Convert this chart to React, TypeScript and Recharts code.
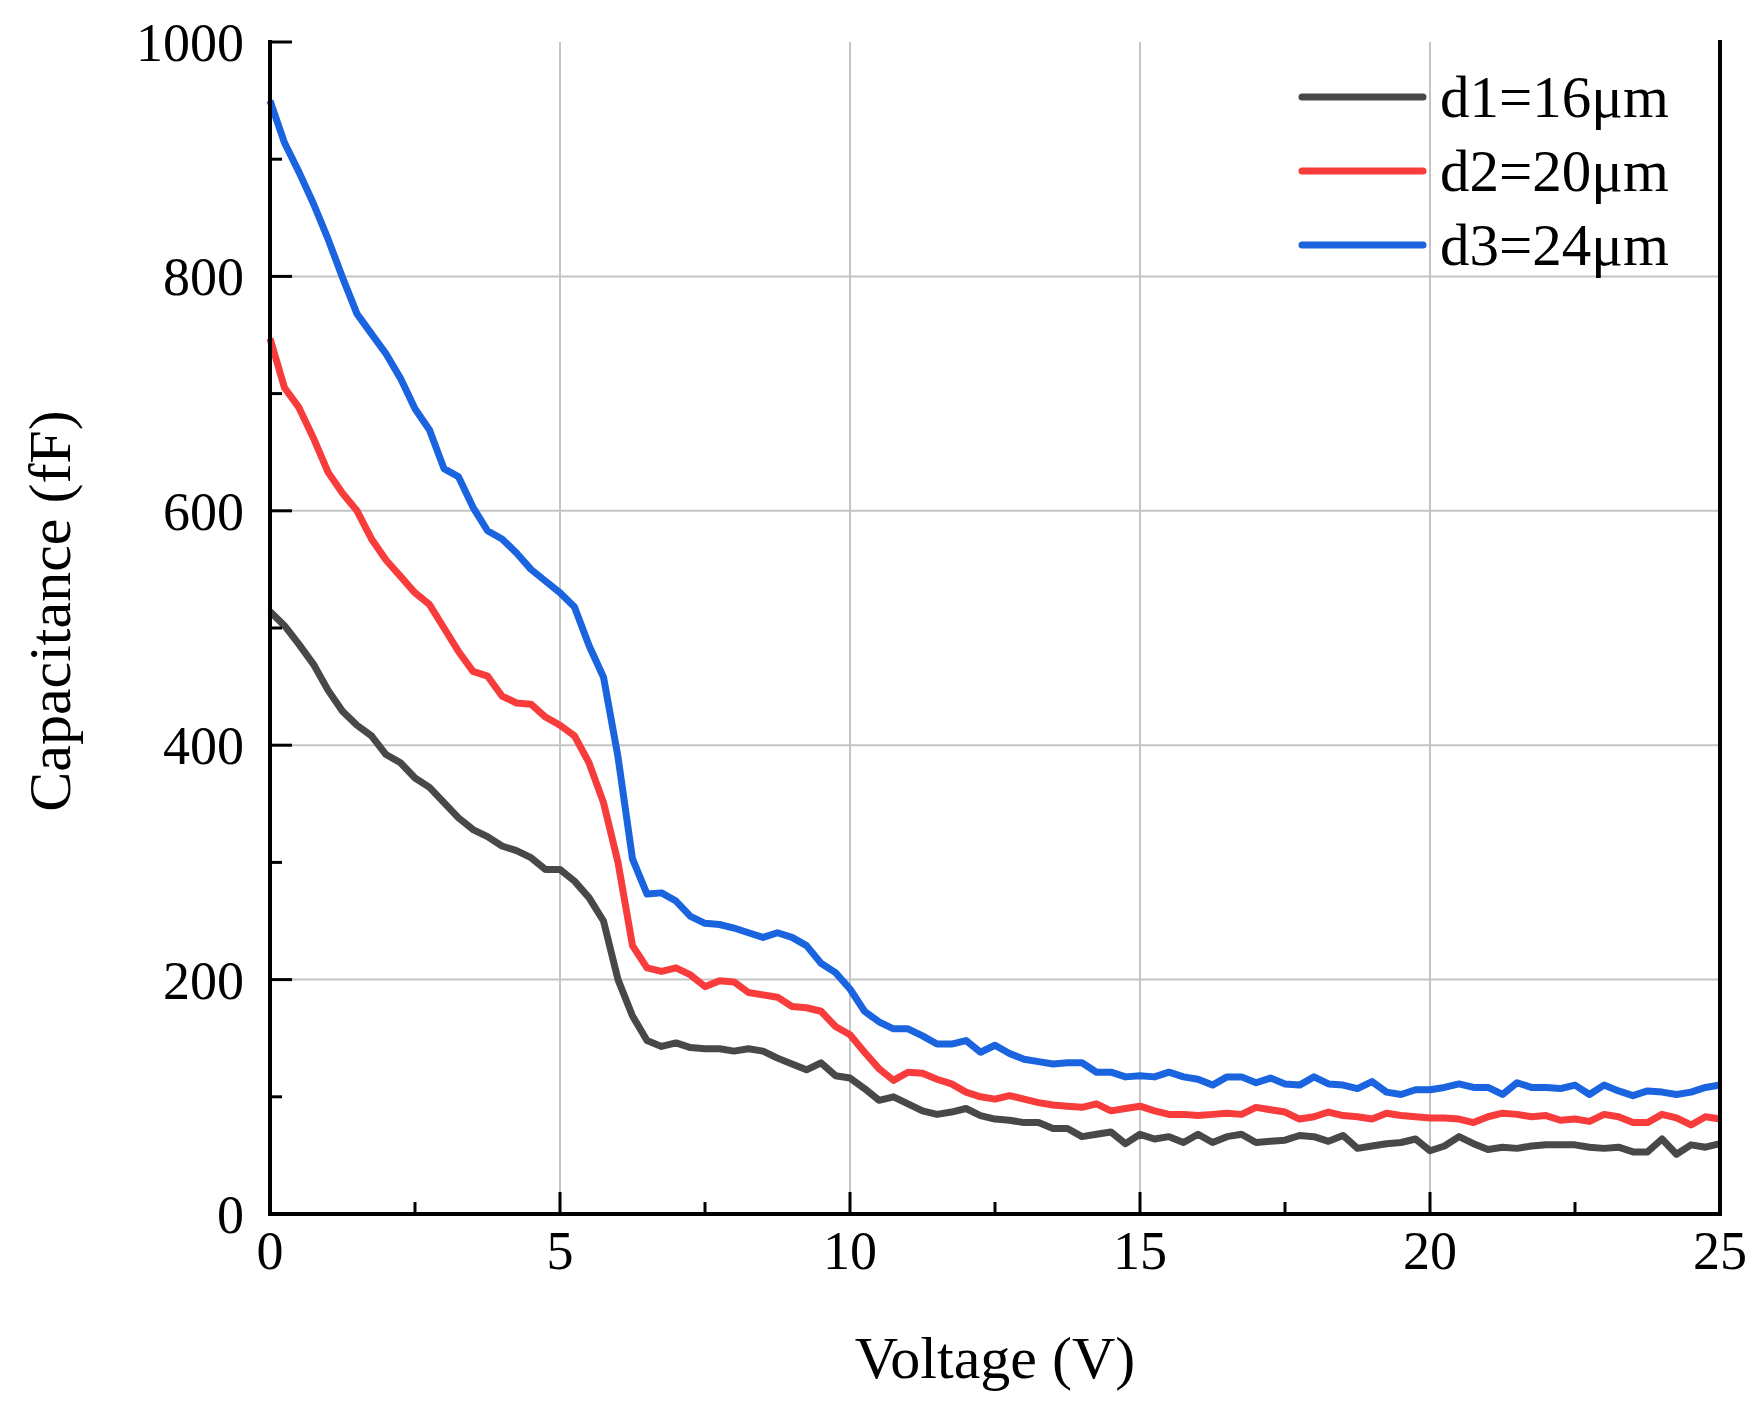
import React from 'react';
import { LineChart, Line, XAxis, YAxis, CartesianGrid, Legend } from 'recharts';

// Voltage sweep (V), 0.25 V steps
const voltage = [
  0, 0.25, 0.5, 0.75, 1, 1.25, 1.5, 1.75, 2, 2.25, 2.5, 2.75, 3, 3.25, 3.5, 3.75, 4, 4.25, 4.5, 4.75,
  5, 5.25, 5.5, 5.75, 6, 6.25, 6.5, 6.75, 7, 7.25, 7.5, 7.75, 8, 8.25, 8.5, 8.75, 9, 9.25, 9.5, 9.75,
  10, 10.25, 10.5, 10.75, 11, 11.25, 11.5, 11.75, 12, 12.25, 12.5, 12.75, 13, 13.25, 13.5, 13.75, 14, 14.25, 14.5, 14.75,
  15, 15.25, 15.5, 15.75, 16, 16.25, 16.5, 16.75, 17, 17.25, 17.5, 17.75, 18, 18.25, 18.5, 18.75, 19, 19.25, 19.5, 19.75,
  20, 20.25, 20.5, 20.75, 21, 21.25, 21.5, 21.75, 22, 22.25, 22.5, 22.75, 23, 23.25, 23.5, 23.75, 24, 24.25, 24.5, 24.75,
  25,
];

// Capacitance (fF) for each electrode spacing
const capD1 = [
  514, 502, 486, 469, 447, 429, 417, 408, 392, 385, 372, 364, 351, 338, 328, 322, 314, 310, 304, 294,
  294, 284, 270, 250, 200, 169, 148, 143, 146, 142, 141, 141, 139, 141, 139, 133, 128, 123, 129, 118,
  116, 107, 97, 100, 94, 88, 85, 87, 90, 84, 81, 80, 78, 78, 73, 73, 66, 68, 70, 60,
  68, 64, 66, 61, 68, 61, 66, 68, 61, 62, 63, 67, 66, 62, 67, 56, 58, 60, 61, 64,
  54, 58, 66, 60, 55, 57, 56, 58, 59, 59, 59, 57, 56, 57, 53, 53, 64, 51, 59, 57,
  60,
];

const capD2 = [
  747, 705, 688, 662, 633, 615, 600, 576, 558, 544, 530, 520, 500, 480, 463, 459, 442, 436, 435, 424,
  417, 408, 385, 351, 300, 229, 210, 207, 210, 204, 194, 199, 198, 189, 187, 185, 177, 176, 173, 160,
  153, 138, 124, 114, 121, 120, 115, 111, 104, 100, 98, 101, 98, 95, 93, 92, 91, 94, 88, 90,
  92, 88, 85, 85, 84, 85, 86, 85, 91, 89, 87, 81, 83, 87, 84, 83, 81, 86, 84, 83,
  82, 82, 81, 78, 83, 86, 85, 83, 84, 80, 81, 79, 85, 83, 78, 78, 85, 82, 76, 83,
  81,
];

const capD3 = [
  950, 914, 889, 862, 832, 799, 768, 751, 734, 713, 687, 669, 636, 629, 603, 583, 576, 564, 550, 540,
  530, 518, 485, 458, 390, 303, 273, 274, 267, 254, 248, 247, 244, 240, 236, 240, 236, 229, 214, 206,
  192, 173, 164, 158, 158, 152, 145, 145, 148, 138, 144, 137, 132, 130, 128, 129, 129, 121, 121, 117,
  118, 117, 121, 117, 115, 110, 117, 117, 112, 116, 111, 110, 117, 111, 110, 107, 113, 104, 102, 106,
  106, 108, 111, 108, 108, 102, 112, 108, 108, 107, 110, 102, 110, 105, 101, 105, 104, 102, 104, 108,
  110,
];

const xTicks = [0, 2.5, 5, 7.5, 10, 12.5, 15, 17.5, 20, 22.5, 25];
const xMajor = [0, 5, 10, 15, 20, 25];
const yTicks = [0, 100, 200, 300, 400, 500, 600, 700, 800, 900, 1000];
const yMajor = [0, 200, 400, 600, 800, 1000];
const xGrid = [5, 10, 15, 20];
const yGrid = [200, 400, 600, 800];

const series = [
  { key: 'd1', name: 'd1=16μm', color: '#484848' },
  { key: 'd2', name: 'd2=20μm', color: '#f83b3b' },
  { key: 'd3', name: 'd3=24μm', color: '#1a64e0' },
];

const data = voltage.map((v, i) => ({ v, d1: capD1[i], d2: capD2[i], d3: capD3[i] }));

const FONT = '"Liberation Serif", "Times New Roman", serif';

const BottomTick = (props: any) => {
  const { x, y, payload } = props;
  const major = xMajor.includes(payload.value);
  return (
    <g>
      <line x1={x} y1={y} x2={x} y2={y - (major ? 22 : 12)} stroke="#000" strokeWidth={3} />
      {major && (
        <text x={x} y={y + 55} textAnchor="middle" fontSize={54} fontFamily={FONT} fill="#000">
          {payload.value}
        </text>
      )}
    </g>
  );
};

const LeftTick = (props: any) => {
  const { x, y, payload } = props;
  const major = yMajor.includes(payload.value);
  return (
    <g>
      <line x1={x} y1={y} x2={x + (major ? 22 : 12)} y2={y} stroke="#000" strokeWidth={3} />
      {major && (
        <text x={x - 26} y={y} dy="0.35em" textAnchor="end" fontSize={54} fontFamily={FONT} fill="#000">
          {payload.value}
        </text>
      )}
    </g>
  );
};

const RightTick = (props: any) => {
  const { x, y, payload } = props;
  const major = yMajor.includes(payload.value);
  return <line x1={x} y1={y} x2={x - (major ? 22 : 12)} y2={y} stroke="#000" strokeWidth={3} />;
};

const LegendBox = () => (
  <svg width={440} height={230}>
    {series.map((s, i) => (
      <g key={s.key}>
        <line x1={14} x2={135} y1={47 + i * 74} y2={47 + i * 74} stroke={s.color} strokeWidth={7} strokeLinecap="round" />
        <text x={152} y={67 + i * 74} fontSize={59} fontFamily={FONT} fill="#000">
          {s.name}
        </text>
      </g>
    ))}
  </svg>
);

const axisLine = { stroke: '#000', strokeWidth: 4, strokeLinecap: 'square' as const };

export default function App() {
  return (
    <div style={{ position: 'absolute', left: 0, top: 0, width: 1764, height: 1408, background: '#fff' }}>
      <LineChart width={1764} height={1408} data={data} margin={{ top: 42, right: 0, bottom: 0, left: 0 }}>
        <CartesianGrid
          horizontalValues={yGrid}
          verticalValues={xGrid}
          stroke="#c4c4c4"
          strokeWidth={2}
        />
        <XAxis
          dataKey="v"
          type="number"
          domain={[0, 25]}
          ticks={xTicks}
          interval={0}
          height={194}
          tickSize={0}
          tickMargin={0}
          tickLine={false}
          axisLine={axisLine}
          tick={<BottomTick />}
          label={{
            content: () => (
              <text x={995} y={1378} textAnchor="middle" fontSize={60} fontFamily={FONT} fill="#000">
                Voltage (V)
              </text>
            ),
          }}
        />
        <XAxis xAxisId="top" orientation="top" dataKey="v" type="number" domain={[0, 25]} height={0} tick={false} tickLine={false} axisLine={axisLine} />
        <YAxis
          type="number"
          domain={[0, 1000]}
          ticks={yTicks}
          interval={0}
          width={270}
          tickSize={0}
          tickMargin={0}
          tickLine={false}
          axisLine={axisLine}
          tick={<LeftTick />}
          label={{
            content: () => (
              <text
                x={70}
                y={611}
                transform="rotate(-90 70 611)"
                textAnchor="middle"
                fontSize={60}
                fontFamily={FONT}
                fill="#000"
              >
                Capacitance (fF)
              </text>
            ),
          }}
        />
        <YAxis
          yAxisId="right"
          orientation="right"
          type="number"
          domain={[0, 1000]}
          ticks={yTicks}
          interval={0}
          width={44}
          tickSize={0}
          tickMargin={0}
          tickLine={false}
          axisLine={axisLine}
          tick={<RightTick />}
        />
        {series.map((s) => (
          <Line
            key={s.key}
            type="linear"
            dataKey={s.key}
            name={s.name}
            stroke={s.color}
            strokeWidth={7}
            strokeLinejoin="round"
            dot={false}
            activeDot={false}
            isAnimationActive={false}
          />
        ))}
        <Legend
          layout="vertical"
          align="center"
          verticalAlign="middle"
          content={() => <LegendBox />}
          wrapperStyle={{ position: 'absolute', left: 1288, top: 50, width: 440, height: 230 }}
        />
      </LineChart>
    </div>
  );
}
